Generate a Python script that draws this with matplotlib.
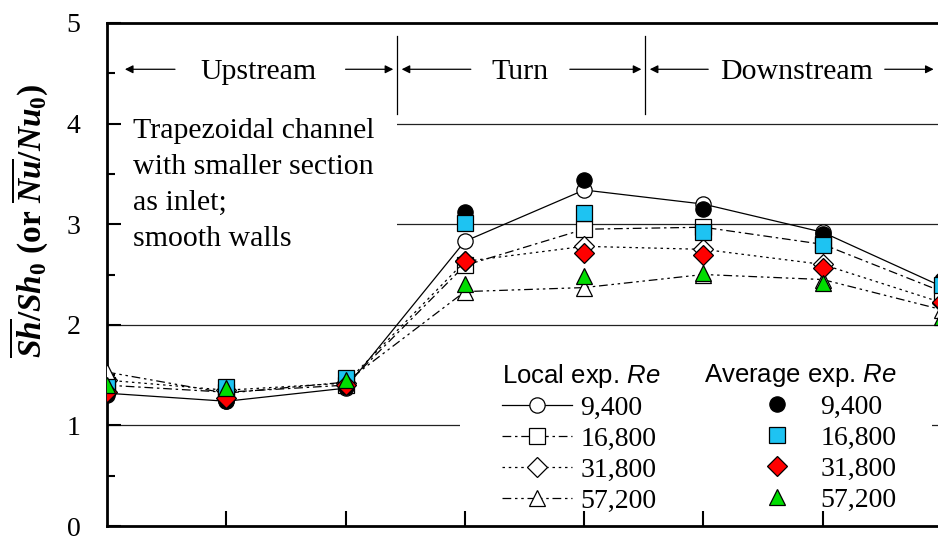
import matplotlib.pyplot as plt
from matplotlib.patches import Rectangle

# --- donnees ---
stations = [0, 1, 2, 3, 4, 5, 6, 7]
re_labels = ['9,400', '16,800', '31,800', '57,200']

# Local exp. (symboles ouverts + lignes)
local_9400 = [1.32, 1.24, 1.37, 2.83, 3.34, 3.20, 2.92, 2.38]
local_16800 = [1.40, 1.33, 1.40, 2.59, 2.95, 2.97, 2.80, 2.33]
local_31800 = [1.45, 1.35, 1.42, 2.63, 2.78, 2.75, 2.60, 2.22]
local_57200 = [1.53, 1.32, 1.43, 2.33, 2.37, 2.50, 2.45, 2.15]

# Average exp. (symboles pleins)
avg_9400 = [1.30, 1.24, 1.38, 3.12, 3.44, 3.15, 2.90, 2.45]
avg_16800 = [1.38, 1.38, 1.47, 3.01, 3.11, 2.92, 2.79, 2.40]
avg_31800 = [1.33, 1.27, 1.40, 2.63, 2.71, 2.69, 2.56, 2.23]
avg_57200 = [1.40, 1.37, 1.45, 2.41, 2.49, 2.51, 2.42, 2.08]

plt.rcParams['font.family'] = 'Liberation Serif'
plt.rcParams['mathtext.fontset'] = 'custom'
plt.rcParams['mathtext.rm'] = 'Liberation Serif:bold'
plt.rcParams['mathtext.it'] = 'Liberation Serif:italic:bold'
plt.rcParams['mathtext.bf'] = 'Liberation Serif:bold'
plt.rcParams['mathtext.sf'] = 'Liberation Sans:italic'

fig = plt.figure(figsize=(9.38, 5.38), dpi=100)
ax = fig.add_axes([107 / 938, 12 / 538, 835 / 938, 503 / 538])

# lignes horizontales de reference
for yv in [1, 2, 3, 4]:
    ax.axhline(yv, color='#222222', lw=0.9, zorder=1)
# masques blancs (zone texte et zone legende)
ax.add_patch(Rectangle((0, 2.55), 2.43, 1.7, fc='white', ec='none', zorder=1.2))
ax.add_patch(Rectangle((2.96, 0.05), 3.96, 1.6, fc='white', ec='none', zorder=1.2))

local_series = [local_9400, local_16800, local_31800, local_57200]
avg_series = [avg_9400, avg_16800, avg_31800, avg_57200]
markers = ['o', 's', 'D', '^']
sizes = [11, 11, 10, 12]
styles = ['-', (0, (7, 3, 2, 3)), (0, (2, 3)), (0, (7, 3, 2, 3, 2, 3))]
couleurs = ['black', '#1ec3f2', '#ff0000', '#00dd00']

lignes_local = []
for vals, m, s, ls in zip(local_series, markers, sizes, styles):
    l, = ax.plot(stations, vals, color='black', lw=0.9, ls=ls, marker=m, ms=s,
                 mfc='white', mec='black', mew=0.9, zorder=3)
    lignes_local.append(l)

lignes_avg = []
for vals, m, s, c in zip(avg_series, markers, sizes, couleurs):
    l, = ax.plot(stations, vals, ls='none', marker=m, ms=s, mfc=c,
                 mec='black', mew=0.9, zorder=4)
    lignes_avg.append(l)

# axes
ax.set_xlim(0, 7)
ax.set_ylim(0, 5)
ax.set_xticks([1, 2, 3, 4, 5, 6])
ax.set_xticklabels([])
ax.set_yticks([0, 1, 2, 3, 4, 5])
ax.set_yticks([0.5, 1.5, 2.5, 3.5, 4.5], minor=True)
ax.tick_params(axis='x', direction='in', length=11, width=1.5)
ax.tick_params(axis='y', which='major', direction='in', length=10, width=1.5,
               labelsize=20, pad=19)
ax.tick_params(axis='y', which='minor', direction='in', length=6, width=1.5)
ax.spines['right'].set_visible(False)
for sp in ['left', 'bottom', 'top']:
    ax.spines[sp].set_linewidth(2)

ax.set_ylabel(r'$\overline{Sh}/Sh_0$ (or $\overline{Nu}/Nu_0$)',
              fontsize=24, fontweight='bold')
ax.yaxis.set_label_coords(-0.068, 0.606)

# annotations des zones
ax.text(0.22, 4.06, 'Trapezoidal channel\nwith smaller section\nas inlet;\nsmooth walls',
        fontsize=21.5, va='top', ha='left', linespacing=1.5, zorder=5)

for xs in [2.43, 4.51]:
    ax.plot([xs, xs], [4.10, 4.87], color='black', lw=0.9)

zones = [('Upstream', 1.27, 0.15, 0.57, 2.00, 2.40),
         ('Turn', 3.46, 2.47, 3.05, 3.88, 4.48),
         ('Downstream', 5.78, 4.55, 5.04, 6.52, 6.93)]
for nom, xc, g1, g2, d1, d2 in zones:
    ax.text(xc, 4.51, nom, fontsize=21.5, ha='center', va='center')
    ax.annotate('', xy=(g1, 4.54), xytext=(g2, 4.54),
                arrowprops=dict(arrowstyle='-|>', color='black', lw=0.9,
                                shrinkA=0, shrinkB=0, mutation_scale=12))
    ax.annotate('', xy=(d2, 4.54), xytext=(d1, 4.54),
                arrowprops=dict(arrowstyle='-|>', color='black', lw=0.9,
                                shrinkA=0, shrinkB=0, mutation_scale=12))

# legendes
leg1 = ax.legend(lignes_local, re_labels, title=r'Local exp. $\mathsf{Re}$',
                 loc='upper left', bbox_to_anchor=(0.457, 0.354), frameon=False,
                 fontsize=20, handlelength=2.5, handletextpad=0.3, labelspacing=0.2,
                 borderpad=0, alignment='left')
leg1.get_title().set_fontfamily('Liberation Sans')
leg1.get_title().set_fontsize(18.5)
ax.add_artist(leg1)

leg2 = ax.legend(lignes_avg, re_labels, title=r'Average exp. $\mathsf{Re}$',
                 loc='upper right', bbox_to_anchor=(0.962, 0.354), frameon=False,
                 fontsize=20, handlelength=2.2, handletextpad=0.45, labelspacing=0.2,
                 borderpad=0, alignment='right')
leg2.get_title().set_fontfamily('Liberation Sans')
leg2.get_title().set_fontsize(18.5)

fig.savefig('out.png', dpi=100)
